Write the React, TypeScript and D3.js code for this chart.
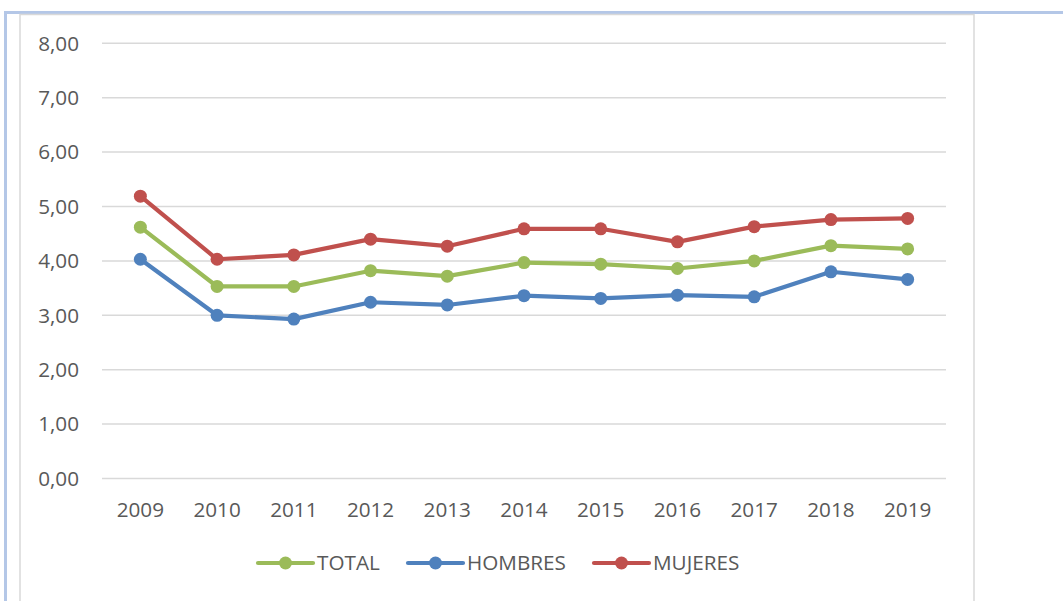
import React from 'react';
import * as d3 from 'd3';

const years = ['2009', '2010', '2011', '2012', '2013', '2014', '2015', '2016', '2017', '2018', '2019'];
const total = [4.62, 3.53, 3.53, 3.82, 3.72, 3.97, 3.94, 3.86, 4.0, 4.28, 4.22];
const hombres = [4.03, 3.0, 2.93, 3.24, 3.19, 3.36, 3.31, 3.37, 3.34, 3.8, 3.66];
const mujeres = [5.19, 4.03, 4.11, 4.4, 4.27, 4.59, 4.59, 4.35, 4.63, 4.76, 4.78];
const yTicks = [0, 1, 2, 3, 4, 5, 6, 7, 8];

const series = [
  { name: 'TOTAL', values: total, color: '#9bbb59' },
  { name: 'HOMBRES', values: hombres, color: '#4f81bd' },
  { name: 'MUJERES', values: mujeres, color: '#c0504d' },
];

const W = 1063;
const H = 601;
const plot = { left: 102, right: 946, top: 43.3, bottom: 478.5 };
const font = '"Open Sans", sans-serif';
const textColor = '#595959';
const fs = 20.7;

const fmt = d3.formatLocale({ decimal: ',', thousands: '.', grouping: [3], currency: ['', '€'] }).format('.2f');

export default function App() {
  const x = d3.scaleBand().domain(years).range([plot.left, plot.right]);
  const y = d3.scaleLinear().domain([0, 8]).range([plot.bottom, plot.top]);
  const cx = (d: string) => (x(d) ?? 0) + x.bandwidth() / 2;

  const line = d3
    .line<number>()
    .x((_, i) => cx(years[i]))
    .y((v) => y(v));

  // legend positions (line start, text start)
  const legend = [
    { x0: 258, tx: 317 },
    { x0: 408, tx: 467 },
    { x0: 594, tx: 653 },
  ];
  const legY = 563;

  return (
    <svg
      width={W}
      height={H}
      style={{ position: 'absolute', left: 0, top: 0, background: '#fff' }}
    >
      {/* outer page frame */}
      <line x1={4} x2={W} y1={12.5} y2={12.5} stroke="#b4c7e7" strokeWidth={3} />
      <line x1={5.5} x2={5.5} y1={11} y2={H} stroke="#b4c7e7" strokeWidth={3} />
      {/* chart frame */}
      <rect x={20} y={14.5} width={954} height={590} fill="#fff" stroke="#d9d9d9" strokeWidth={1.5} />

      {yTicks.map((t) => (
        <g key={t}>
          <line x1={plot.left} x2={plot.right} y1={y(t)} y2={y(t)} stroke="#d9d9d9" strokeWidth={1.5} />
          <text
            x={79}
            y={y(t)}
            dy="0.35em"
            textAnchor="end"
            fontFamily={font}
            fontSize={fs}
            fill={textColor}
          >
            {fmt(t)}
          </text>
        </g>
      ))}

      {years.map((yr) => (
        <text
          key={yr}
          x={cx(yr)}
          y={510}
          dy="0.35em"
          textAnchor="middle"
          fontFamily={font}
          fontSize={fs}
          fill={textColor}
        >
          {yr}
        </text>
      ))}

      {series.map((s) => (
        <g key={s.name}>
          <path d={line(s.values) ?? ''} fill="none" stroke={s.color} strokeWidth={4.2} strokeLinejoin="round" />
          {s.values.map((v, i) => (
            <circle key={i} cx={cx(years[i])} cy={y(v)} r={6.5} fill={s.color} />
          ))}
        </g>
      ))}

      {series.map((s, i) => (
        <g key={s.name}>
          <line
            x1={legend[i].x0}
            x2={legend[i].x0 + 55}
            y1={legY}
            y2={legY}
            stroke={s.color}
            strokeWidth={4.2}
            strokeLinecap="round"
          />
          <circle cx={legend[i].x0 + 27.5} cy={legY} r={6.5} fill={s.color} />
          <text
            x={legend[i].tx}
            y={legY}
            dy="0.35em"
            fontFamily={font}
            fontSize={fs}
            fill={textColor}
          >
            {s.name}
          </text>
        </g>
      ))}
    </svg>
  );
}
